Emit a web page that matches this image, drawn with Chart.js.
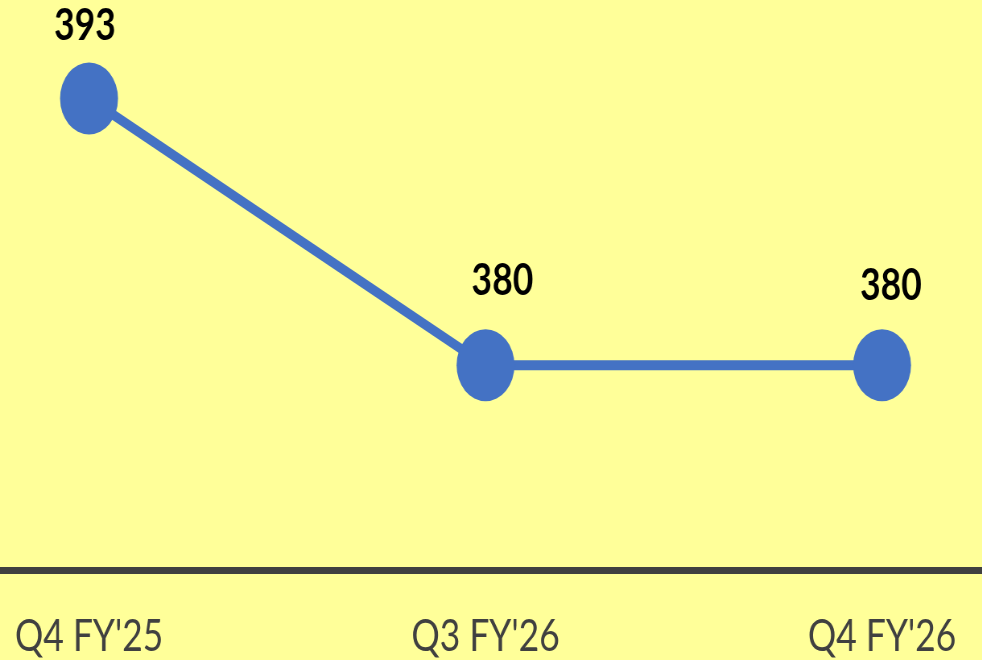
<!DOCTYPE html>
<html>
<head>
<meta charset="utf-8">
<script src="https://cdn.jsdelivr.net/npm/chart.js@4.4.1/dist/chart.umd.min.js"></script>
<style>
  html, body { margin: 0; padding: 0; background: #FFFF99; overflow: hidden; }
  #wrap { width: 982px; height: 660px; position: relative; overflow: hidden; }
  #c { position: absolute; left: 0; top: 0; transform: scaleX(0.805); transform-origin: 0 0; }
</style>
</head>
<body>
<div id="wrap"><canvas id="c" width="1220" height="660"></canvas></div>
<script>
const categories = ["Q4 FY'25", "Q3 FY'26", "Q4 FY'26"];
const values = [393, 380, 380];
const valueLabels = ["393", "380", "380"];

const BLUE = '#4472C4';
const FONT = "Lato, 'Liberation Sans', sans-serif";

const labelPlugin = {
  id: 'valueLabels',
  afterDatasetsDraw(chart, args, opts) {
    const ctx = chart.ctx;
    const meta = chart.getDatasetMeta(0);
    ctx.save();
    ctx.font = opts.font;
    ctx.fillStyle = opts.color;
    ctx.textAlign = 'center';
    ctx.textBaseline = 'middle';
    meta.data.forEach((pt, i) => {
      const off = opts.offsets[i];
      ctx.fillText(valueLabels[i], pt.x + off[0], pt.y + off[1]);
    });
    ctx.restore();
  }
};

const axisLinePlugin = {
  id: 'axisLine',
  beforeDatasetsDraw(chart, args, opts) {
    const ctx = chart.ctx;
    const y = chart.chartArea.bottom;
    ctx.save();
    ctx.fillStyle = opts.color;
    ctx.fillRect(0, y - opts.width / 2, chart.width, opts.width);
    ctx.restore();
  }
};

new Chart(document.getElementById('c'), {
  type: 'line',
  data: {
    labels: categories,
    datasets: [{
      data: values,
      borderColor: BLUE,
      borderWidth: 10,
      tension: 0,
      pointRadius: 36,
      pointBorderWidth: 0,
      pointBackgroundColor: BLUE,
      pointBorderColor: BLUE,
      clip: false
    }]
  },
  options: {
    responsive: false,
    devicePixelRatio: 1,
    animation: false,
    events: [],
    layout: { autoPadding: false, padding: { left: 110.6, right: 124.3, top: 0, bottom: 0 } },
    plugins: {
      legend: { display: false },
      tooltip: { enabled: false },
      axisLine: { color: '#404040', width: 7 },
      valueLabels: {
        font: "bold 44px " + FONT,
        color: '#000000',
        offsets: [[-5, -73], [21, -84], [11, -79]]
      }
    },
    scales: {
      x: {
        offset: false,
        grid: { display: false, drawTicks: false },
        border: { display: false },
        ticks: {
          color: '#404040',
          font: { family: FONT, size: 44 },
          padding: 40,
          maxRotation: 0,
          autoSkip: false
        },
        afterFit(scale) { scale.height = 89.5; scale.paddingLeft = 0; scale.paddingRight = 0; }
      },
      y: {
        display: false,
        min: 370,
        max: 397.8
      }
    }
  },
  plugins: [axisLinePlugin, labelPlugin]
});
</script>
</body>
</html>
